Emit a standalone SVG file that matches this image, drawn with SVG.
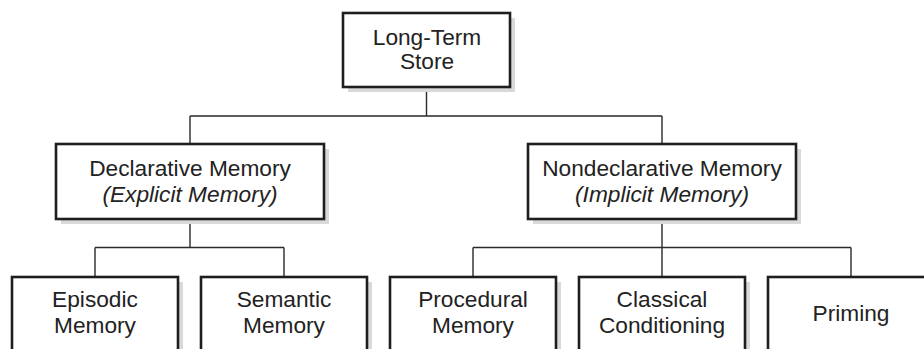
<svg xmlns="http://www.w3.org/2000/svg" width="924" height="349" viewBox="0 0 924 349">
<style>
.box{fill:#fff;stroke:#1e1e1e;stroke-width:2.6}
.sh{fill:#d9d9d9}
.t{font-family:"Liberation Sans",Arial,sans-serif;font-size:22.7px;fill:#222;text-anchor:middle}
.i{font-style:italic}
.c{fill:none;stroke:#2a2a2a;stroke-width:1.4}
</style>
<rect width="924" height="349" fill="#fff"/>
<g id="connectors">
<path class="c" d="M426.5,87V116M190,116H662M190,116V144M662,116V144M190,219V247.5M95,247.5H284M95,247.5V277M284,247.5V277M662,219V277M473,247.5H851M473,247.5V277M851,247.5V277"/>
</g>
<g id="long-term-store">
<rect class="sh" x="348" y="18" width="167" height="74"/>
<rect class="box" x="343" y="13" width="167" height="74"/>
<text class="t" x="427" y="45">Long-Term</text>
<text class="t" x="427" y="69">Store</text>
</g>
<g id="declarative">
<rect class="sh" x="61" y="149" width="268" height="75"/>
<rect class="box" x="56" y="144" width="268" height="75"/>
<text class="t" x="190" y="176">Declarative Memory</text>
<text class="t i" x="190" y="202">(Explicit Memory)</text>
</g>
<g id="nondeclarative">
<rect class="sh" x="533" y="149" width="268" height="75"/>
<rect class="box" x="528" y="144" width="268" height="75"/>
<text class="t" x="662" y="176">Nondeclarative Memory</text>
<text class="t i" x="662" y="202">(Implicit Memory)</text>
</g>
<g id="episodic">
<rect class="sh" x="17" y="282" width="166" height="100"/>
<rect class="box" x="12" y="277" width="166" height="100"/>
<text class="t" x="95" y="307">Episodic</text>
<text class="t" x="95" y="333">Memory</text>
</g>
<g id="semantic">
<rect class="sh" x="206" y="282" width="166" height="100"/>
<rect class="box" x="201" y="277" width="166" height="100"/>
<text class="t" x="284" y="307">Semantic</text>
<text class="t" x="284" y="333">Memory</text>
</g>
<g id="procedural">
<rect class="sh" x="395" y="282" width="166" height="100"/>
<rect class="box" x="390" y="277" width="166" height="100"/>
<text class="t" x="473" y="307">Procedural</text>
<text class="t" x="473" y="333">Memory</text>
</g>
<g id="classical">
<rect class="sh" x="584" y="282" width="166" height="100"/>
<rect class="box" x="579" y="277" width="166" height="100"/>
<text class="t" x="662" y="307">Classical</text>
<text class="t" x="662" y="333">Conditioning</text>
</g>
<g id="priming">
<rect class="sh" x="773" y="282" width="166" height="100"/>
<rect class="box" x="768" y="277" width="166" height="100"/>
<text class="t" x="851" y="321">Priming</text>
</g>
</svg>
